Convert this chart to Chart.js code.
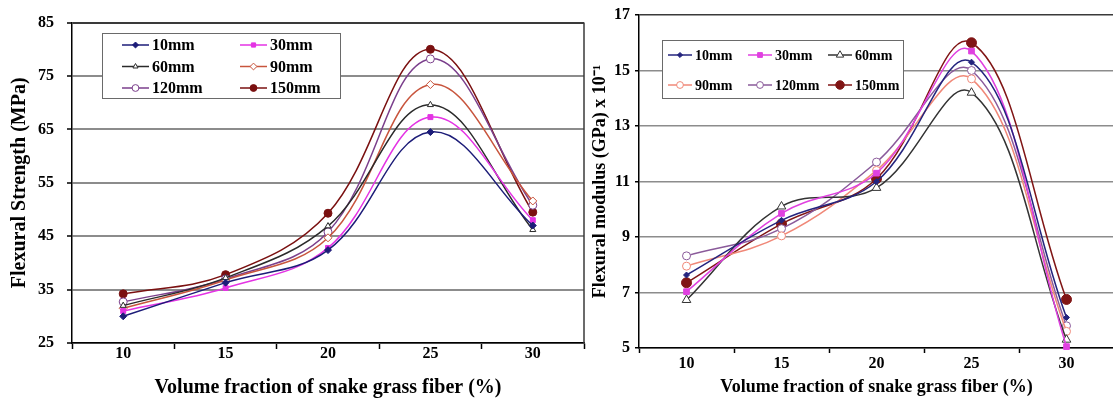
<!DOCTYPE html>
<html>
<head>
<meta charset="utf-8">
<script src="https://cdn.jsdelivr.net/npm/chart.js@4.4.1/dist/chart.umd.min.js"></script>
<style>
  html, body { margin: 0; padding: 0; background: #fff; overflow: hidden; }
  #wrap { position: relative; width: 1113px; height: 401px; overflow: hidden; }
  #left { position: absolute; left: 0; top: 0; }
  #right { position: absolute; left: 590px; top: 0; }
</style>
</head>
<body>
<div id="wrap">
  <canvas id="left" width="590" height="401"></canvas>
  <canvas id="right" width="530" height="401"></canvas>
</div>
<script>
// fiber volume fraction (%)
var categories = ["10", "15", "20", "25", "30"];
var seriesNames = ["10mm", "30mm", "60mm", "90mm", "120mm", "150mm"];

// flexural strength (MPa), left chart
var strength10 = [30.0, 36.3, 42.4, 64.5, 47.0];
var strength30 = [31.0, 35.3, 42.8, 67.3, 48.0];
var strength60 = [32.0, 37.2, 46.9, 69.6, 46.2];
var strength90 = [31.5, 36.8, 44.7, 73.4, 51.6];
var strength120 = [32.7, 37.0, 45.8, 78.2, 50.8];
var strength150 = [34.2, 37.8, 49.3, 80.0, 49.5];

// flexural modulus (GPa x 10^-1), right chart
var modulus10 = [7.63, 9.6, 11.0, 15.3, 6.1];
var modulus30 = [7.03, 9.85, 11.3, 15.7, 5.05];
var modulus60 = [6.73, 10.1, 10.77, 14.2, 5.3];
var modulus90 = [7.95, 9.04, 11.4, 14.7, 5.6];
var modulus120 = [8.32, 9.3, 11.7, 15.0, 5.8];
var modulus150 = [7.35, 9.47, 11.1, 16.0, 6.75];

var strengthTicks = [25, 35, 45, 55, 65, 75, 85];
var modulusTicks = [5, 7, 9, 11, 13, 15, 17];

var serif = "'Liberation Serif', 'Times New Roman', serif";

// legend in a box inside the plot + optional right frame line
var boxLegend = {
  id: "boxLegend",
  afterDraw: function(chart, args, o) {
    var ctx = chart.ctx;
    ctx.save();
    if (o.frame) {
      ctx.strokeStyle = "#3a3a3a";
      ctx.lineWidth = 1.5;
      ctx.beginPath();
      ctx.moveTo(chart.chartArea.right, chart.chartArea.top);
      ctx.lineTo(chart.chartArea.right, chart.chartArea.bottom);
      ctx.stroke();
    }
    ctx.fillStyle = "#fff";
    ctx.fillRect(o.x, o.y, o.w, o.h);
    ctx.strokeStyle = "#6a6a6a";
    ctx.lineWidth = 1;
    ctx.strokeRect(o.x + 0.5, o.y + 0.5, o.w, o.h);
    ctx.font = "bold " + o.fontSize + "px " + serif;
    ctx.textBaseline = "middle";
    chart.data.datasets.forEach(function(ds, i) {
      var col = i % o.cols;
      var row = Math.floor(i / o.cols);
      var x = o.x + o.padX + col * o.colW;
      var y = o.y + o.padY + row * o.rowH;
      ctx.strokeStyle = ds.borderColor;
      ctx.lineWidth = 1.5;
      ctx.beginPath();
      ctx.moveTo(x, y);
      ctx.lineTo(x + o.lineW, y);
      ctx.stroke();
      ctx.fillStyle = ds.pointBackgroundColor;
      ctx.strokeStyle = ds.borderColor;
      ctx.lineWidth = 1;
      Chart.helpers.drawPoint(ctx, {pointStyle: ds.pointStyle, radius: ds.pointRadius * 0.85, borderWidth: 1, rotation: 0}, x + o.lineW / 2, y);
      ctx.fillStyle = "#000";
      ctx.fillText(ds.label, x + o.lineW + 3, y + 1);
    });
    ctx.restore();
  }
};

function makeSet(label, values, color, style, fill, r) {
  return {
    label: label,
    data: values,
    borderColor: color,
    backgroundColor: color,
    borderWidth: 1.5,
    pointStyle: style,
    pointRadius: r,
    pointBackgroundColor: fill,
    pointBorderColor: color,
    pointBorderWidth: 1,
    tension: 0.38,
    clip: false
  };
}

function gridColor(top) {
  return function(c) { return c.tick && c.tick.value === top ? "#3a3a3a" : "#8c8c8c"; };
}

// left chart: flexural strength
new Chart(document.getElementById("left"), {
  type: "line",
  data: {
    labels: categories,
    datasets: [
      makeSet(seriesNames[0], strength10, "#1c1c78", "rectRot", "#1c1c78", 3.5),
      makeSet(seriesNames[1], strength30, "#e433e4", "rect", "#e433e4", 3.5),
      makeSet(seriesNames[2], strength60, "#2a2a2a", "triangle", "#fff", 3.5),
      makeSet(seriesNames[3], strength90, "#c8553d", "rectRot", "#fff", 4),
      makeSet(seriesNames[4], strength120, "#7b3f8c", "circle", "#fff", 4),
      makeSet(seriesNames[5], strength150, "#7a1010", "circle", "#7a1010", 4)
    ]
  },
  options: {
    responsive: false,
    animation: false,
    layout: {padding: {top: 17, right: 6, left: 0, bottom: 0}},
    plugins: {
      legend: {display: false},
      tooltip: {enabled: false},
      boxLegend: {x: 102, y: 33, w: 238, h: 65, cols: 2, padX: 20, padY: 12, colW: 118, rowH: 21.5, lineW: 27, fontSize: 16, frame: true}
    },
    scales: {
      x: {
        offset: true,
        grid: {offset: true, drawOnChartArea: false, tickLength: 6, tickColor: "#000", tickWidth: 1.5},
        border: {color: "#000", width: 1.5},
        ticks: {color: "#000", padding: -5, font: {family: serif, size: 16, weight: "bold"}},
        title: {display: true, text: "Volume fraction of snake grass fiber (%)", color: "#000",
                font: {family: serif, size: 20, weight: "bold"}, padding: {top: 0, bottom: 1}},
        afterFit: function(s) { s.height = 58; }
      },
      y: {
        min: 25,
        max: 85,
        afterBuildTicks: function(s) { s.ticks = strengthTicks.map(function(v) { return {value: v}; }); },
        grid: {color: gridColor(85), lineWidth: 2, tickLength: 5, tickColor: "#000", tickWidth: 1.5},
        border: {color: "#000", width: 1.5},
        ticks: {color: "#000", padding: 13, font: {family: serif, size: 16, weight: "bold"}},
        title: {display: true, text: "Flexural Strength (MPa)", color: "#000",
                font: {family: serif, size: 20, weight: "bold"}, padding: {top: 8, bottom: 0}},
        afterFit: function(s) { s.width = 72; }
      }
    }
  },
  plugins: [boxLegend]
});

// right chart: flexural modulus
new Chart(document.getElementById("right"), {
  type: "line",
  data: {
    labels: categories,
    datasets: [
      makeSet(seriesNames[0], modulus10, "#24247e", "rectRot", "#24247e", 3),
      makeSet(seriesNames[1], modulus30, "#e040e0", "rect", "#e040e0", 4),
      makeSet(seriesNames[2], modulus60, "#333333", "triangle", "#fff", 5),
      makeSet(seriesNames[3], modulus90, "#f08878", "circle", "#fff", 4),
      makeSet(seriesNames[4], modulus120, "#8a5a9a", "circle", "#fff", 4),
      makeSet(seriesNames[5], modulus150, "#801515", "circle", "#801515", 5)
    ]
  },
  options: {
    responsive: false,
    animation: false,
    layout: {padding: {top: 15, right: 5, left: 0, bottom: 0}},
    plugins: {
      legend: {display: false},
      tooltip: {enabled: false},
      boxLegend: {x: 72, y: 40, w: 241, h: 58, cols: 3, padX: 6, padY: 15, colW: 80, rowH: 30, lineW: 24, fontSize: 14}
    },
    scales: {
      x: {
        offset: true,
        grid: {offset: true, drawOnChartArea: false, tickLength: 5, tickColor: "#000", tickWidth: 1.5},
        border: {color: "#000", width: 1.5},
        ticks: {color: "#000", padding: 1, font: {family: serif, size: 16, weight: "bold"}},
        title: {display: true, text: "Volume fraction of snake grass fiber (%)", color: "#000",
                font: {family: serif, size: 18, weight: "bold"}, padding: {top: 0, bottom: 3}},
        afterFit: function(s) { s.height = 53; }
      },
      y: {
        min: 5,
        max: 17,
        afterBuildTicks: function(s) { s.ticks = modulusTicks.map(function(v) { return {value: v}; }); },
        grid: {color: gridColor(17), lineWidth: 1.5, tickLength: 4, tickColor: "#000", tickWidth: 1.5},
        border: {color: "#000", width: 1.5},
        ticks: {color: "#000", padding: 5, font: {family: serif, size: 16, weight: "bold"}},
        title: {display: true, text: "Flexural modulus (GPa) x 10\u207B\u00B9", color: "#000",
                font: {family: serif, size: 18, weight: "bold"}, padding: {top: 0, bottom: 0}},
        afterFit: function(s) { s.width = 49; }
      }
    }
  },
  plugins: [boxLegend]
});
</script>
</body>
</html>
